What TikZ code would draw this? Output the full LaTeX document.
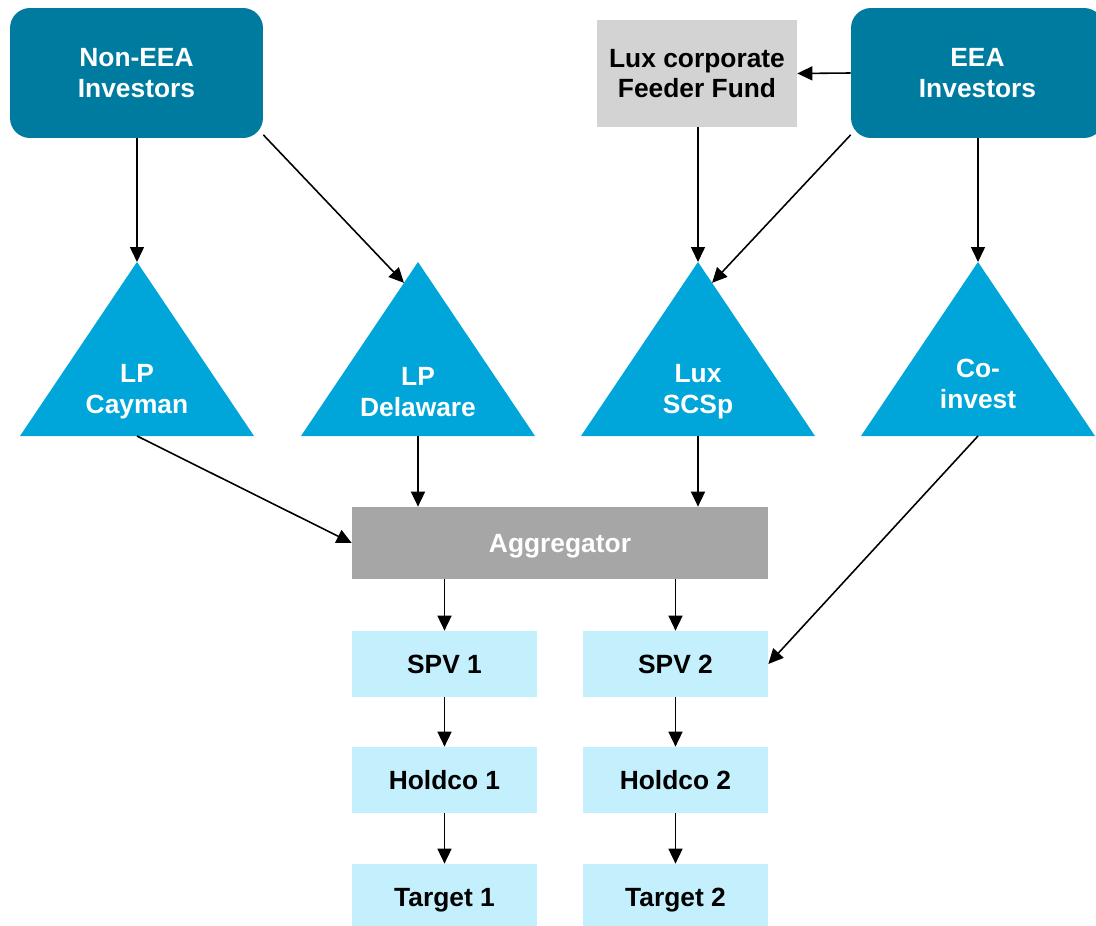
\documentclass[tikz,border=0pt]{standalone}
\usepackage{fontspec}
\setmainfont{Liberation Sans}
\usetikzlibrary{arrows.meta,calc}
\definecolor{investor}{HTML}{007BA0}
\definecolor{fundblue}{HTML}{00A6D9}
\definecolor{spvblue}{HTML}{C4EFFC}
\definecolor{aggrey}{HTML}{A6A6A6}
\definecolor{feedgrey}{HTML}{D3D3D3}

\begin{document}
\begin{tikzpicture}[x=0.02cm,y=-0.02cm,
    every node/.style={font=\bfseries\fontsize{15}{17.5}\selectfont, align=center, inner sep=0pt},
    investorbox/.style={fill=investor, text=white, rounded corners=0.4cm, minimum width=5.06cm, minimum height=2.6cm},
    feederbox/.style={fill=feedgrey, minimum width=4cm, minimum height=2.14cm},
    aggbox/.style={fill=aggrey, text=white, text depth=0pt, minimum width=8.32cm, minimum height=1.44cm},
    spvbox/.style={fill=spvblue, text depth=0pt, minimum width=3.7cm, minimum height=1.32cm},
    fundtext/.style={text=white},
    link/.style={line width=0.9pt, -{Triangle[length=0.3cm,width=0.28cm]}}]
    \useasboundingbox (0,0) rectangle (1096,926);
    % top row
    \node[investorbox] (noneea) at (136.5,73) {Non-EEA\\Investors};
    \node[feederbox] (feeder) at (697,73.5) {Lux corporate\\Feeder Fund};
    \node[investorbox] (eea) at (977.5,73) {EEA\\Investors};
    % funds
    \foreach \n/\x in {cay/137, del/418, scs/698, coi/978}{
        \fill[fundblue] (\x,262) coordinate (\n-top) -- (\x+117,436) coordinate (\n-r)
            -- (\x-117,436) coordinate (\n-l) -- cycle;
        \coordinate (\n-bot) at (\x,436);
    }
    \node[fundtext] (cay) at (137,392) {LP\\Cayman};
    \node[fundtext] (del) at (418,392) {LP\\Delaware};
    \node[fundtext] (scs) at (698,392) {Lux\\SCSp};
    \node[fundtext] (coi) at (978,384) {Co-\\invest};
    % aggregator and below
    \node[aggbox] (agg) at (560,543) {Aggregator};
    \node[spvbox] (spv1) at (444.5,664) {SPV 1};
    \node[spvbox] (spv2) at (675.5,664) {SPV 2};
    \node[spvbox] (hold1) at (444.5,780) {Holdco 1};
    \node[spvbox] (hold2) at (675.5,780) {Holdco 2};
    \node[spvbox] (tgt1) at (444.5,897) {Target 1};
    \node[spvbox] (tgt2) at (675.5,897) {Target 2};
    % links
    \draw[link] (noneea.south -| cay-top) -- (cay-top);
    \draw[link] (noneea.-26) -- ($(del-top)!0.12!(del-l)$);
    \draw[link] (eea.west) -- (feeder.east);
    \draw[link] (feeder.south -| scs-top) -- (scs-top);
    \draw[link] (eea.206) -- ($(scs-top)!0.12!(scs-r)$);
    \draw[link] (eea.south -| coi-top) -- (coi-top);
    \draw[link] (cay-bot) -- (agg.west);
    \draw[link] (del-bot) -- (del-bot |- agg.north);
    \draw[link] (scs-bot) -- (scs-bot |- agg.north);
    \draw[link] (coi-bot) -- (spv2.east);
    \draw[link] (agg.south -| spv1) -- (spv1);
    \draw[link] (agg.south -| spv2) -- (spv2);
    \draw[link] (spv1) -- (hold1);
    \draw[link] (hold1) -- (tgt1);
    \draw[link] (spv2) -- (hold2);
    \draw[link] (hold2) -- (tgt2);
\end{tikzpicture}
\end{document}
